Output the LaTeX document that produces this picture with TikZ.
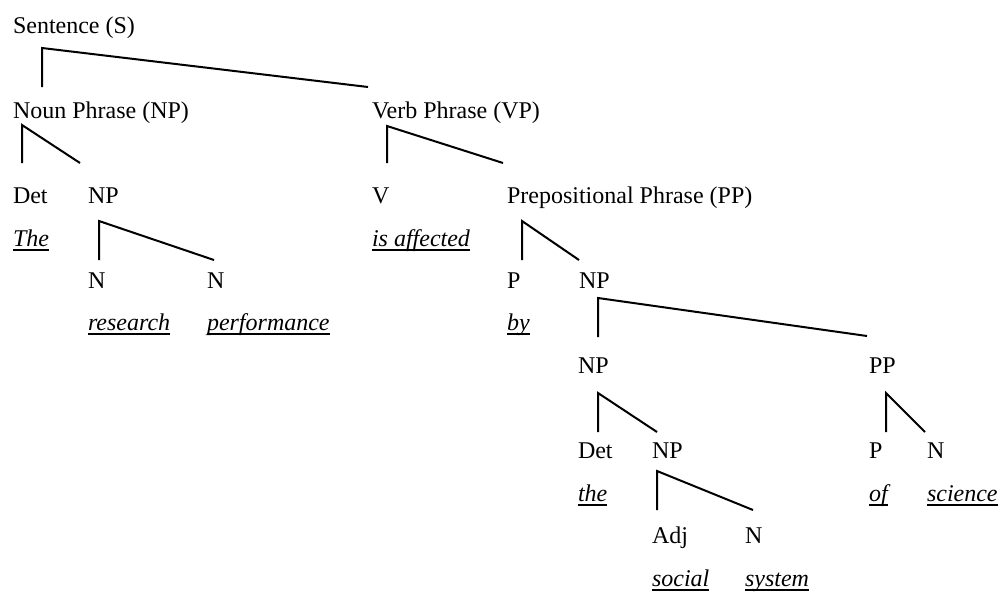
\documentclass[tikz,border=0pt]{standalone}
\usepackage{fontspec}
\setmainfont{Liberation Serif}
% italic word with a fixed-depth underline
\newcommand\wordul[1]{\setbox0\hbox{\itshape #1}\rlap{\rule[-4.5pt]{\wd0}{2pt}}\box0}
\begin{document}
\begin{tikzpicture}[x=1pt,y=-1pt,
  lbl/.style={anchor=base west,inner sep=0pt,outer sep=0pt,font=\fontsize{24}{28}\selectfont},
  branch/.style={line width=2pt,line join=miter}]
\useasboundingbox (0,0) rectangle (1000,592);

% category labels
\node[lbl] (s)    at (13,33)  {Sentence (S)};
\node[lbl] (np)   at (13,118) {Noun Phrase (NP)};
\node[lbl] (vp)   at (372,118){Verb Phrase (VP)};
\node[lbl] (det1) at (13,203) {Det};
\node[lbl] (np2)  at (88,203) {NP};
\node[lbl] (v)    at (372,203){V};
\node[lbl] (pp)   at (507,203){Prepositional Phrase (PP)};
\node[lbl] (n1)   at (88,288) {N};
\node[lbl] (n2)   at (207,288){N};
\node[lbl] (p1)   at (507,288){P};
\node[lbl] (np3)  at (579,288){NP};
\node[lbl] (np4)  at (578,373){NP};
\node[lbl] (pp2)  at (869,373){PP};
\node[lbl] (det2) at (578,458){Det};
\node[lbl] (np5)  at (652,458){NP};
\node[lbl] (p2)   at (869,458){P};
\node[lbl] (n3)   at (927,458){N};
\node[lbl] (adj)  at (652,543){Adj};
\node[lbl] (n4)   at (745,543){N};

% words
\node[lbl] (wthe)   at (13,246)  {\wordul{The}};
\node[lbl] (wis)    at (372,246) {\wordul{is affected}};
\node[lbl] (wres)   at (88,330)  {\wordul{research}};
\node[lbl] (wperf)  at (207,330) {\wordul{performance}};
\node[lbl] (wby)    at (507,330) {\wordul{by}};
\node[lbl] (wthe2)  at (578,501) {\wordul{the}};
\node[lbl] (wof)    at (869,501) {\wordul{of}};
\node[lbl] (wsci)   at (927,501) {\wordul{science}};
\node[lbl] (wsoc)   at (652,586) {\wordul{social}};
\node[lbl] (wsys)   at (745,586) {\wordul{system}};

% branch points: top corner, left foot, right foot
\coordinate (sT) at (42,48);   \coordinate (sL) at (42,87);   \coordinate (sR) at (368,87);
\coordinate (npT) at (22,125); \coordinate (npL) at (22,163); \coordinate (npR) at (80,163);
\coordinate (vpT) at (387,126);\coordinate (vpL) at (387,163);\coordinate (vpR) at (503,163);
\coordinate (naT) at (99,221); \coordinate (naL) at (99,260); \coordinate (naR) at (214,260);
\coordinate (ppT) at (522,221);\coordinate (ppL) at (522,260);\coordinate (ppR) at (579,260);
\coordinate (nbT) at (598,298);\coordinate (nbL) at (598,337);\coordinate (nbR) at (867,336);
\coordinate (ncT) at (598,393);\coordinate (ncL) at (598,432);\coordinate (ncR) at (657,432);
\coordinate (qT) at (886,393); \coordinate (qL) at (886,432); \coordinate (qR) at (925,432);
\coordinate (ndT) at (657,471);\coordinate (ndL) at (657,510);\coordinate (ndR) at (753,510);

\foreach \b in {s,np,vp,na,pp,nb,nc,q,nd}
  \draw[branch] (\b L) -- (\b T) -- (\b R);
\end{tikzpicture}
\end{document}
